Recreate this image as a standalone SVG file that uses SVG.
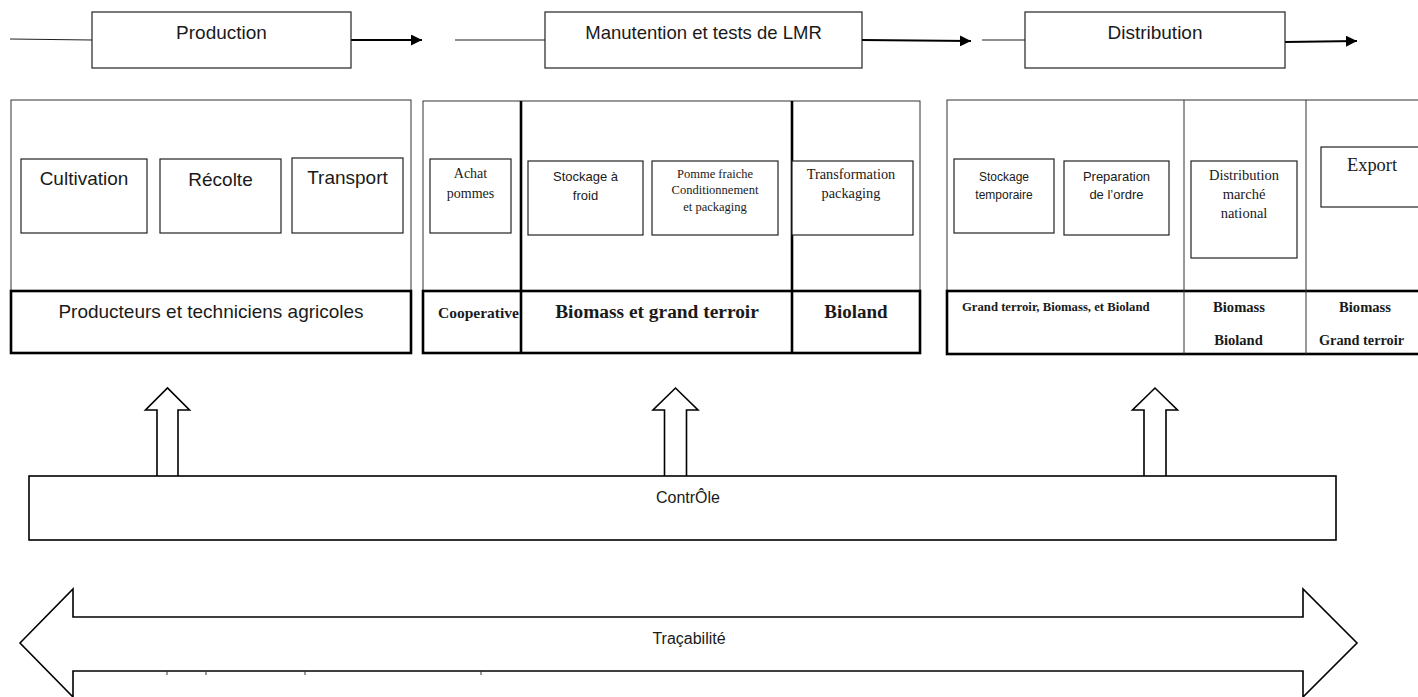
<svg xmlns="http://www.w3.org/2000/svg" width="1418" height="697" viewBox="0 0 1418 697">
<style>
  .sans{font-family:"Liberation Sans",Arial,sans-serif;fill:#1a1a1a}
  .serif{font-family:"Liberation Serif","Times New Roman",serif;fill:#1a1a1a}
  .b{font-weight:bold}
  .mid{text-anchor:middle}
  .box{fill:#fff;stroke:#222;stroke-width:1.2}
  .thin{fill:none;stroke:#333;stroke-width:1}
  .thick{fill:none;stroke:#000;stroke-width:2.6}
  .blk{fill:#fff;stroke:#000;stroke-width:1.6;stroke-linejoin:miter}
  .ln{stroke:#222;stroke-width:1.1;fill:none}
  .arr{stroke:#000;stroke-width:2;fill:none;marker-end:url(#ah)}
</style>
<defs>
  <marker id="ah" viewBox="0 0 10 10" refX="10" refY="5" markerWidth="5.5" markerHeight="5.5" markerUnits="strokeWidth" orient="auto">
    <path d="M0,0 L10,5 L0,10 z" fill="#000"/>
  </marker>
</defs>
<rect width="1418" height="697" fill="#fff"/>

<g id="connectors">
  <line class="ln" x1="10" y1="39" x2="92" y2="40"/>
  <line class="arr" x1="351" y1="40" x2="422" y2="40"/>
  <line class="ln" x1="455" y1="40" x2="545" y2="40"/>
  <line class="arr" x1="862" y1="40" x2="971" y2="41"/>
  <line class="ln" x1="982" y1="40" x2="1025" y2="40"/>
  <line class="arr" x1="1285" y1="42" x2="1357" y2="41"/>
</g>

<g id="stage-production">
  <rect class="box" x="92" y="12" width="259" height="56"/>
  <text class="sans mid" x="221.5" y="39" font-size="19">Production</text>
</g>
<g id="stage-manutention">
  <rect class="box" x="545" y="12" width="317" height="56"/>
  <text class="sans mid" x="703.5" y="39" font-size="18.5">Manutention et tests de LMR</text>
</g>
<g id="stage-distribution">
  <rect class="box" x="1025" y="12" width="260" height="56"/>
  <text class="sans mid" x="1155" y="39" font-size="19">Distribution</text>
</g>

<g id="cluster-production">
  <rect class="thin" x="11" y="100" width="400" height="191"/>
  <rect class="thick" x="11" y="291" width="400" height="62"/>
  <text class="sans mid" x="211" y="318" font-size="19">Producteurs et techniciens agricoles</text>
  <g id="cultivation">
    <rect class="box" x="21" y="159" width="126" height="74"/>
    <text class="sans mid" x="84" y="185" font-size="19">Cultivation</text>
  </g>
  <g id="recolte">
    <rect class="box" x="160" y="159" width="121" height="74"/>
    <text class="sans mid" x="220.5" y="186" font-size="19">Récolte</text>
  </g>
  <g id="transport">
    <rect class="box" x="292" y="158" width="111" height="75"/>
    <text class="sans mid" x="347.5" y="184" font-size="19">Transport</text>
  </g>
</g>

<g id="cluster-manutention">
  <rect class="thin" x="423" y="101" width="497" height="190"/>
  <rect class="thick" x="423" y="291" width="497" height="62"/>
  <line class="thick" x1="521" y1="101" x2="521" y2="353"/>
  <line class="thick" x1="792" y1="101" x2="792" y2="353"/>
  <g id="achat">
    <rect class="box" x="430" y="159" width="81" height="74"/>
    <text class="serif mid" x="470.5" y="178" font-size="14">Achat</text>
    <text class="serif mid" x="470.5" y="198" font-size="14">pommes</text>
  </g>
  <g id="stockage-froid">
    <rect class="box" x="528" y="161" width="115" height="74"/>
    <text class="sans mid" x="585.5" y="181" font-size="13">Stockage à</text>
    <text class="sans mid" x="585.5" y="200" font-size="13">froid</text>
  </g>
  <g id="pomme-fraiche">
    <rect class="box" x="652" y="161" width="126" height="74"/>
    <text class="serif mid" x="715" y="178" font-size="12.5">Pomme fraiche</text>
    <text class="serif mid" x="715" y="194" font-size="12.5">Conditionnement</text>
    <text class="serif mid" x="715" y="211" font-size="12.5">et packaging</text>
  </g>
  <g id="transformation">
    <rect class="box" x="792" y="161" width="121" height="74"/>
    <text class="serif mid" x="851" y="179" font-size="14.3">Transformation</text>
    <text class="serif mid" x="851" y="198" font-size="14.3">packaging</text>
  </g>
  <text class="serif b" x="438" y="318" font-size="15.5">Cooperative</text>
  <text class="serif b mid" x="657" y="318" font-size="19.4">Biomass et grand terroir</text>
  <text class="serif b mid" x="856" y="318" font-size="19">Bioland</text>
</g>

<g id="cluster-distribution">
  <rect class="thin" x="947" y="100" width="480" height="191"/>
  <rect class="thick" x="947" y="291" width="480" height="63"/>
  <line class="thin" x1="1184" y1="100" x2="1184" y2="354"/>
  <line class="thin" x1="1306" y1="100" x2="1306" y2="354"/>
  <g id="stockage-temporaire">
    <rect class="box" x="954" y="159" width="100" height="74"/>
    <text class="sans mid" x="1004" y="181" font-size="12">Stockage</text>
    <text class="sans mid" x="1004" y="199" font-size="12">temporaire</text>
  </g>
  <g id="preparation">
    <rect class="box" x="1064" y="161" width="105" height="74"/>
    <text class="sans mid" x="1116.5" y="181" font-size="13">Preparation</text>
    <text class="sans mid" x="1116.5" y="199" font-size="13">de l’ordre</text>
  </g>
  <g id="distribution-national">
    <rect class="box" x="1191" y="161" width="106" height="97"/>
    <text class="serif mid" x="1244" y="180" font-size="14.5">Distribution</text>
    <text class="serif mid" x="1244" y="199" font-size="14.5">marché</text>
    <text class="serif mid" x="1244" y="218" font-size="14.5">national</text>
  </g>
  <g id="export">
    <rect class="box" x="1321" y="147" width="110" height="60"/>
    <text class="serif mid" x="1372" y="171" font-size="18.4">Export</text>
  </g>
  <text class="serif b" x="962" y="311" font-size="12.7">Grand terroir, Biomass, et Bioland</text>
  <text class="serif b mid" x="1239" y="312" font-size="14.6">Biomass</text>
  <text class="serif b mid" x="1238.5" y="345" font-size="14.6">Bioland</text>
  <text class="serif b mid" x="1365" y="312" font-size="14.6">Biomass</text>
  <text class="serif b mid" x="1361.5" y="345" font-size="14.3">Grand terroir</text>
</g>

<g id="control-arrows">
  <path class="blk" d="M157,476 L157,410 L145.5,410 L167.5,388 L189.5,410 L178,410 L178,476"/>
  <path class="blk" d="M664.5,476 L664.5,410 L653,410 L675.5,388 L698,410 L686.5,410 L686.5,476"/>
  <path class="blk" d="M1144,476 L1144,410 L1132.5,410 L1155,388 L1177.5,410 L1166,410 L1166,476"/>
</g>

<g id="controle">
  <rect class="blk" x="29" y="476" width="1307" height="64"/>
  <text class="sans mid" x="688" y="503" font-size="16">ContrÔle</text>
</g>

<g id="tracabilite">
  <path class="blk" d="M20,643 L73,589 L73,617 L1303,617 L1303,589 L1357,643 L1303,697 L1303,671 L73,671 L73,697 Z"/>
  <text class="sans mid" x="689" y="644" font-size="16">Traçabilité</text>
  <g stroke="#333" stroke-width="1">
    <line x1="167" y1="671" x2="167" y2="675"/>
    <line x1="206" y1="671" x2="206" y2="675"/>
    <line x1="305" y1="671" x2="305" y2="675"/>
    <line x1="481" y1="671" x2="481" y2="675"/>
  </g>
</g>
</svg>
